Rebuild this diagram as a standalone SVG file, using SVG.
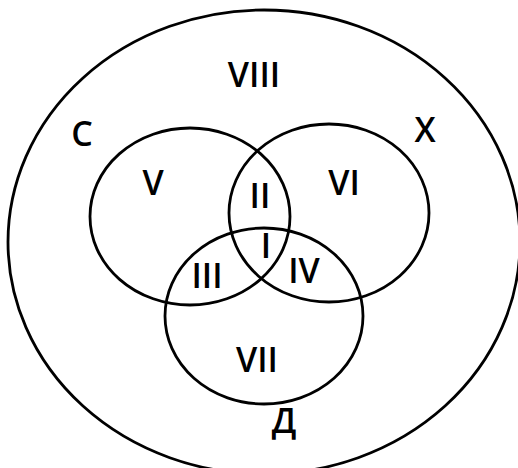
<svg xmlns="http://www.w3.org/2000/svg" width="518" height="468" viewBox="0 0 518 468">
<style>
.c{fill:none;stroke:#000;stroke-width:2.8}
.t{font-family:"Open Sans","Liberation Sans",Arial,sans-serif;font-weight:600;font-size:34px;fill:#000;text-anchor:middle}
</style>
<rect width="518" height="468" fill="#fff"/>
<g id="universe">
<ellipse class="c" cx="264" cy="242" rx="256" ry="232"/>
<text class="t" x="254" y="87">VIII</text>
</g>
<g id="set-C">
<ellipse class="c" cx="190" cy="216.5" rx="100" ry="88.5"/>
<text class="t" x="82" y="146">С</text>
</g>
<g id="set-X">
<ellipse class="c" cx="329" cy="213" rx="100" ry="89"/>
<text class="t" x="425" y="142">Х</text>
</g>
<g id="set-D">
<ellipse class="c" cx="264" cy="316" rx="99" ry="88"/>
<text class="t" x="284" y="433">Д</text>
</g>
<g id="regions">
<text class="t" x="153" y="195">V</text>
<text class="t" x="260" y="208">II</text>
<text class="t" x="344" y="195">VI</text>
<text class="t" x="266" y="258">I</text>
<text class="t" x="207" y="288">III</text>
<text class="t" x="304" y="283">IV</text>
<text class="t" x="257" y="372">VII</text>
</g>
</svg>
